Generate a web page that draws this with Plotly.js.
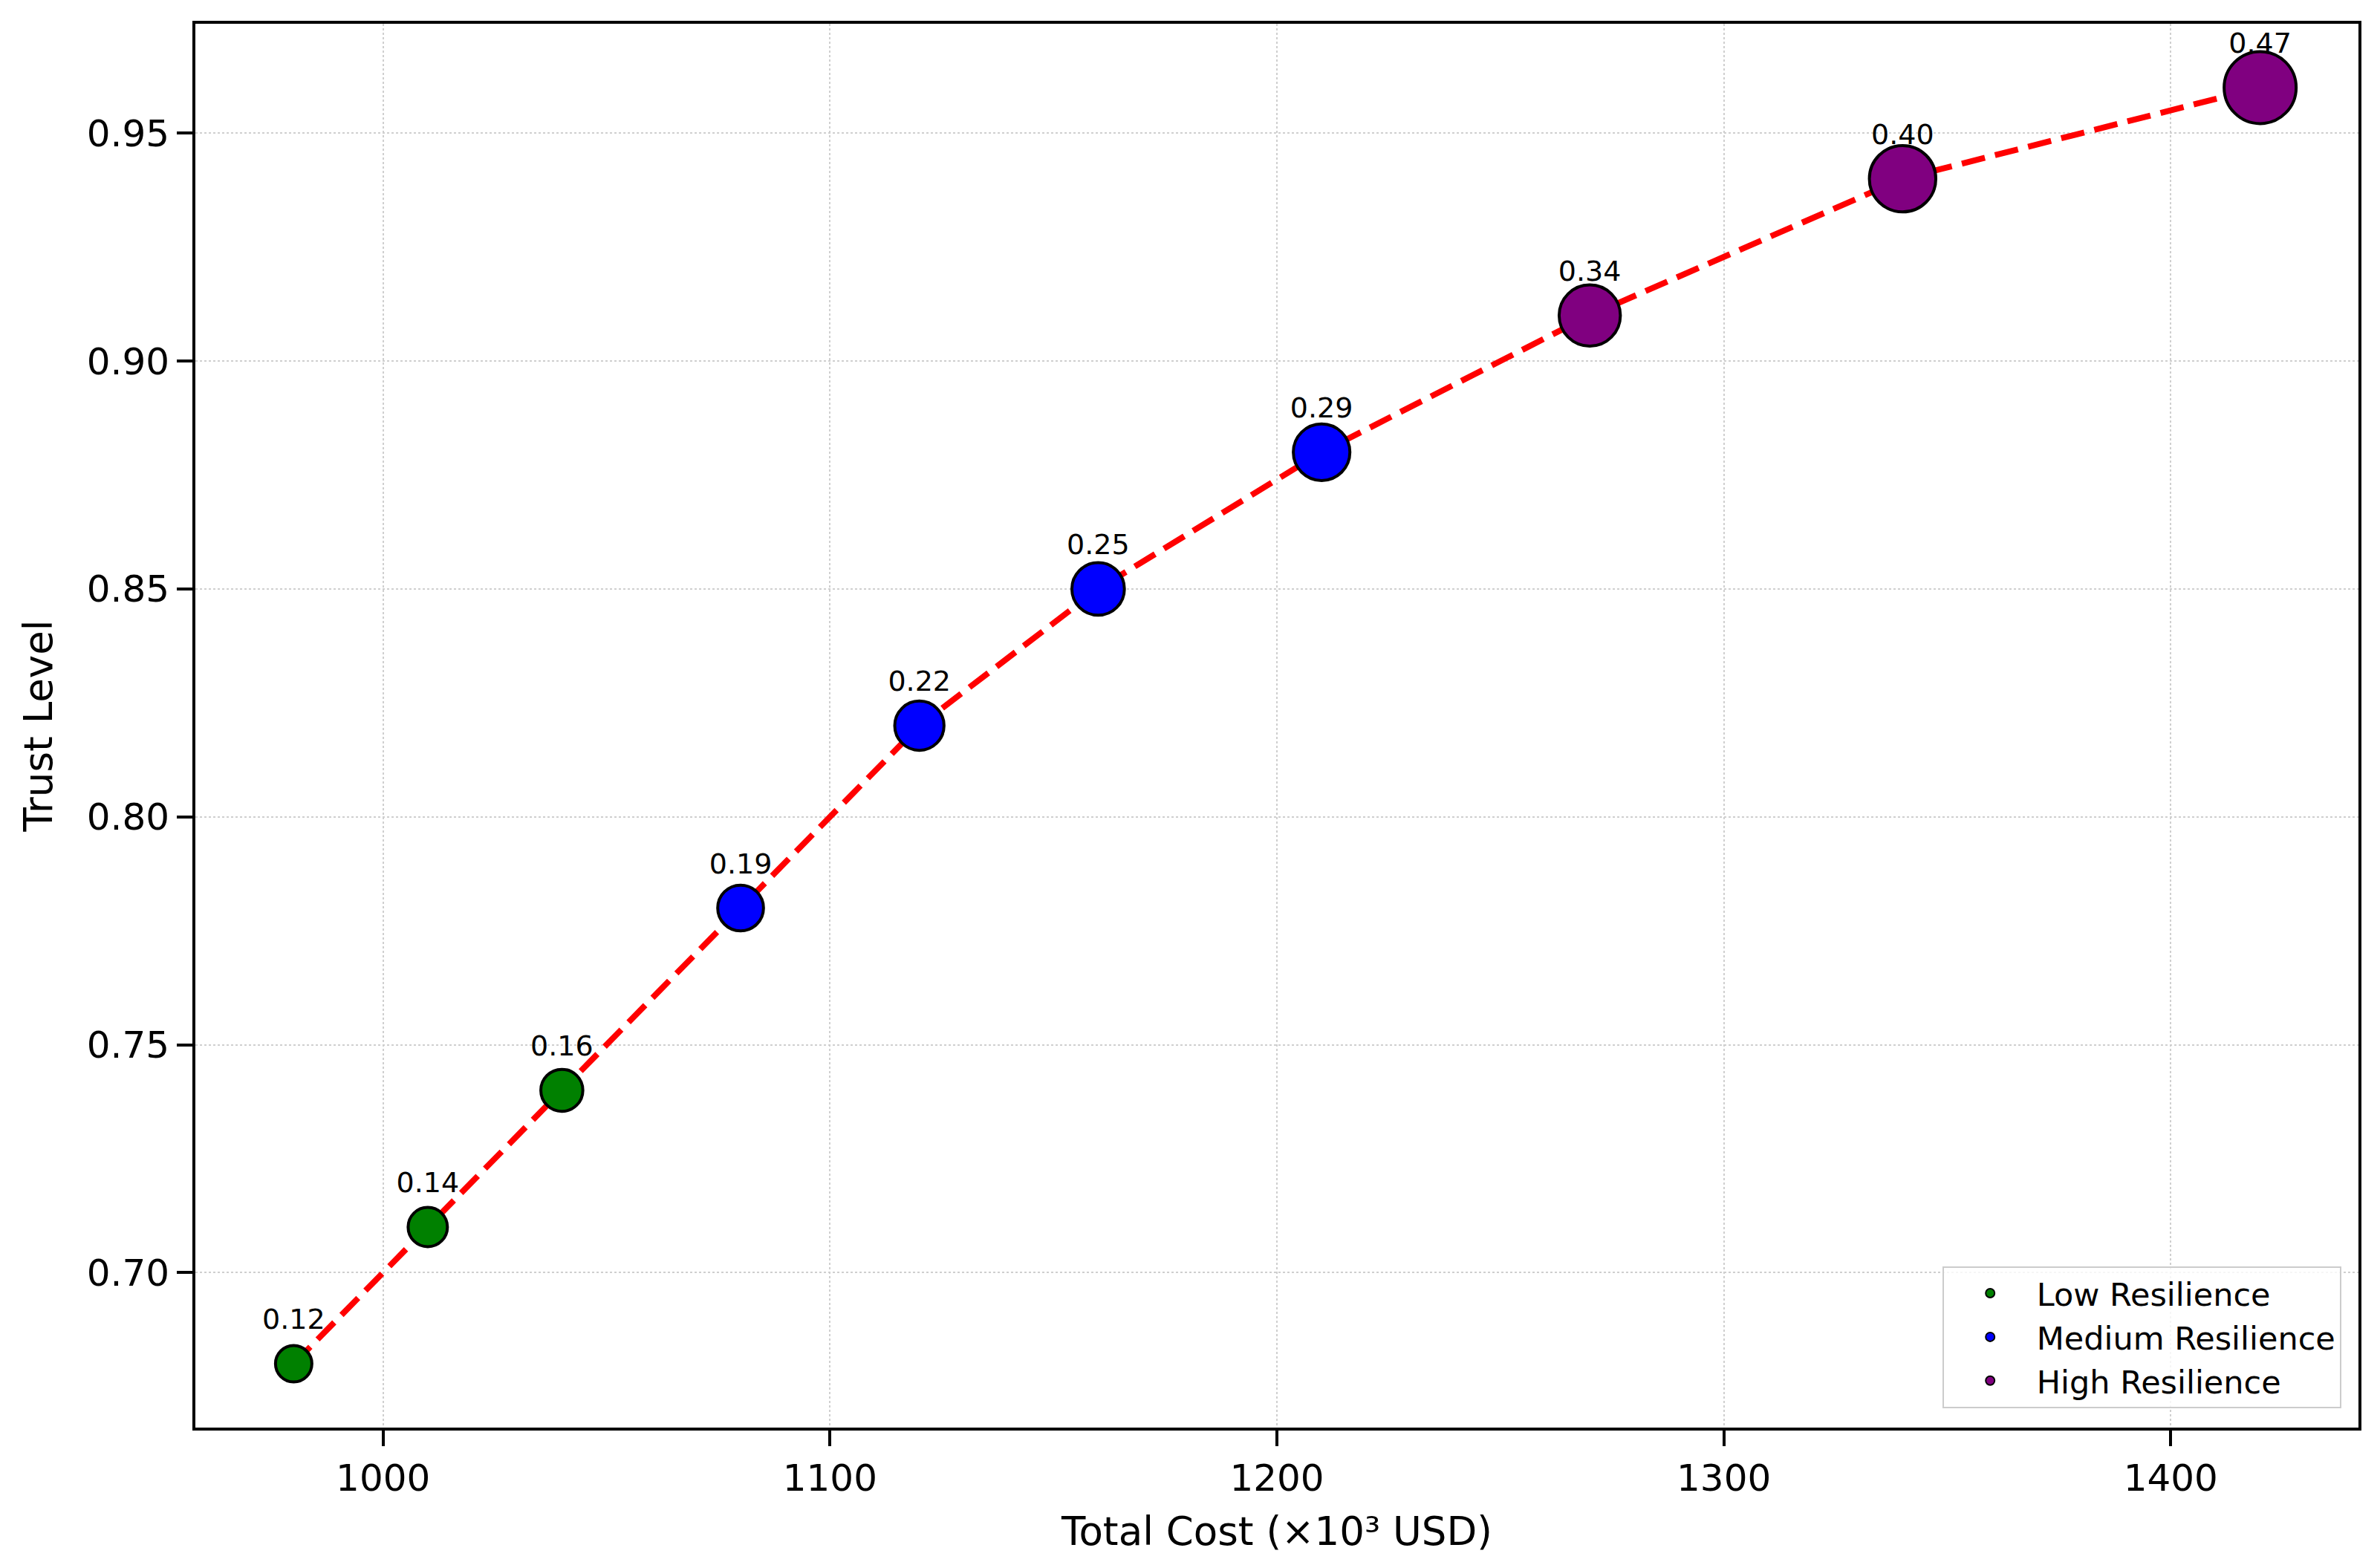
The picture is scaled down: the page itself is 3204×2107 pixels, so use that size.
<!DOCTYPE html>
<html>
<head>
<meta charset="utf-8">
<script src="https://cdn.plot.ly/plotly-3.0.1.min.js"></script>
<style>
  html, body { margin: 0; padding: 0; background: #fff; }
  #chart { width: 3204px; height: 2107px; }
</style>
</head>
<body>
<div id="chart"></div>
<script>
// values
const cost = [980, 1010, 1040, 1080, 1120, 1160, 1210, 1270, 1340, 1420]
const trust = [0.68, 0.71, 0.74, 0.78, 0.82, 0.85, 0.88, 0.91, 0.94, 0.96]
const resilience = [0.12, 0.14, 0.16, 0.19, 0.22, 0.25, 0.29, 0.34, 0.40, 0.47]
const level = ['Low', 'Low', 'Low', 'Medium', 'Medium', 'Medium', 'Medium', 'High', 'High', 'High']

const groups = ['Low', 'Medium', 'High']
const group_names = ['Low Resilience', 'Medium Resilience', 'High Resilience']
const group_colors = ['#008000', '#0000ff', '#800080']

const font = 'DejaVu Sans, Liberation Sans, sans-serif'

function group_trace(g) {
    var xs = [], ys = [], ss = []
    for (var i = 0; i < cost.length; i++) {
        if (level[i] == groups[g]) {
            xs.push(cost[i])
            ys.push(trust[i])
            ss.push(resilience[i])
        }
    }
    return {
        type: 'scatter',
        mode: 'markers',
        x: xs,
        y: ys,
        name: group_names[g],
        marker: {
            color: group_colors[g],
            opacity: 1,
            size: ss,
            sizemode: 'area',
            sizeref: 0.0001,
            line: {color: '#000', width: 4},
        },
        cliponaxis: false,
    }
}

var traces = [{
    type: 'scatter',
    mode: 'lines',
    x: cost,
    y: trust,
    showlegend: false,
    line: {color: '#ff0000', width: 8, dash: '32px,14px'},
    hoverinfo: 'skip',
}]
for (var g = 0; g < groups.length; g++) {
    traces.push(group_trace(g))
}
// value labels, pushed up a fixed distance by an invisible marker
traces.push({
    type: 'scatter',
    mode: 'markers+text',
    x: cost,
    y: trust,
    text: resilience.map(v => v.toFixed(2)),
    textposition: 'top center',
    textfont: {family: font, size: 38, color: '#000'},
    marker: {size: 58, color: 'rgba(0,0,0,0)', line: {width: 0}},
    showlegend: false,
    cliponaxis: false,
})

var axis = {
    showline: true,
    mirror: true,
    linecolor: '#000',
    linewidth: 4,
    ticks: 'outside',
    ticklen: 21,
    tickwidth: 4,
    tickcolor: '#000',
    showgrid: true,
    gridcolor: '#cfcfcf',
    gridwidth: 2,
    griddash: 'dot',
    zeroline: false,
    tickfont: {family: font, size: 50, color: '#000'},
}

Plotly.newPlot('chart', traces, {
    width: 3204,
    height: 2107,
    paper_bgcolor: '#fff',
    plot_bgcolor: '#fff',
    font: {family: font, color: '#000'},
    margin: {l: 263, r: 29, t: 32, b: 185},
    showlegend: true,
    xaxis: Object.assign({}, axis, {
        range: [958, 1442],
        tickvals: [1000, 1100, 1200, 1300, 1400],
        title: {text: 'Total Cost (×10³ USD)', font: {family: font, size: 53}, standoff: 26},
    }),
    yaxis: Object.assign({}, axis, {
        range: [0.666, 0.974],
        tickvals: [0.70, 0.75, 0.80, 0.85, 0.90, 0.95],
        tickformat: '.2f',
        title: {text: 'Trust Level', font: {family: font, size: 53}, standoff: 30},
    }),
    legend: {
        x: 0.992,
        y: 0.014,
        xanchor: 'right',
        yanchor: 'bottom',
        bgcolor: 'rgba(255,255,255,0.8)',
        bordercolor: '#cccccc',
        borderwidth: 2,
        font: {family: font, size: 43, color: '#000'},
        itemsizing: 'constant',
        itemwidth: 115,
    },
}, {displayModeBar: false, staticPlot: true})
</script>
</body>
</html>
